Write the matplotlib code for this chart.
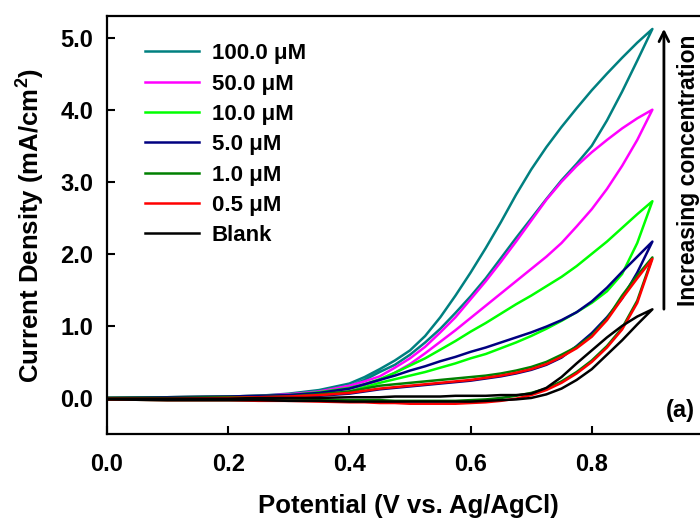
import numpy as np
from matplotlib import pyplot as plt

plt.rcParams['font.family'] = ['Liberation Sans', 'DejaVu Sans']
plt.rcParams['font.weight'] = 'bold'
plt.rcParams['mathtext.fontset'] = 'custom'
plt.rcParams['mathtext.rm'] = 'Liberation Sans:bold'
plt.rcParams['mathtext.bf'] = 'Liberation Sans:bold'

# --- data (V vs Ag/AgCl, mA/cm2) ---
potential = [0.0, 0.1, 0.2, 0.25, 0.3, 0.35, 0.4, 0.425, 0.45, 0.475, 0.5, 0.525, 0.55,
             0.575, 0.6, 0.625, 0.65, 0.675, 0.7, 0.725, 0.75, 0.775, 0.8, 0.825, 0.85,
             0.875, 0.9]

labels = ['100.0 \u03bcM', '50.0 \u03bcM', '10.0 \u03bcM', '5.0 \u03bcM', '1.0 \u03bcM', '0.5 \u03bcM', 'Blank']
colors = ['#008080', '#ff00ff', '#00ff00', '#000080', '#008000', '#ff0000', '#000000']

# upper branch of each loop
upper_100 = [0.0, 0.01, 0.02, 0.03, 0.06, 0.11, 0.20, 0.29, 0.40, 0.52, 0.66, 0.86, 1.12, 1.42,
             1.74, 2.08, 2.44, 2.82, 3.17, 3.48, 3.76, 4.02, 4.27, 4.50, 4.72, 4.93, 5.12]
upper_50 = [0.0, 0.01, 0.02, 0.03, 0.05, 0.09, 0.17, 0.23, 0.30, 0.42, 0.55, 0.71, 0.91, 1.12,
            1.37, 1.62, 1.89, 2.17, 2.46, 2.75, 3.00, 3.22, 3.41, 3.58, 3.74, 3.88, 4.00]
upper_10 = [0.0, 0.01, 0.02, 0.03, 0.04, 0.08, 0.14, 0.19, 0.26, 0.35, 0.45, 0.55, 0.67, 0.79,
            0.92, 1.04, 1.17, 1.30, 1.42, 1.55, 1.68, 1.83, 2.00, 2.17, 2.36, 2.55, 2.73]
upper_5 = [0.0, 0.01, 0.02, 0.03, 0.04, 0.07, 0.13, 0.19, 0.25, 0.31, 0.38, 0.44, 0.51, 0.57,
           0.64, 0.70, 0.77, 0.84, 0.91, 0.99, 1.08, 1.19, 1.34, 1.53, 1.75, 1.96, 2.17]
upper_1 = [0.0, 0.0, 0.01, 0.01, 0.02, 0.05, 0.09, 0.13, 0.17, 0.19, 0.21, 0.23, 0.25, 0.27,
           0.29, 0.31, 0.34, 0.38, 0.43, 0.50, 0.60, 0.71, 0.87, 1.10, 1.42, 1.70, 1.95]
upper_05 = [-0.01, -0.01, 0.0, 0.01, 0.02, 0.04, 0.07, 0.10, 0.13, 0.15, 0.17, 0.19, 0.21, 0.23,
            0.25, 0.28, 0.31, 0.35, 0.40, 0.47, 0.57, 0.69, 0.85, 1.08, 1.38, 1.66, 1.93]
upper_blank = [-0.01, -0.01, -0.01, 0.0, 0.0, 0.0, 0.01, 0.01, 0.01, 0.02, 0.02, 0.02, 0.02, 0.03,
               0.03, 0.03, 0.04, 0.04, 0.06, 0.14, 0.29, 0.48, 0.66, 0.84, 1.00, 1.13, 1.23]

# lower branch of each loop
lower_100 = [-0.02, -0.02, -0.01, 0.0, 0.03, 0.07, 0.16, 0.25, 0.36, 0.46, 0.60, 0.77, 0.96, 1.18,
             1.41, 1.66, 1.94, 2.22, 2.49, 2.76, 3.02, 3.25, 3.50, 3.85, 4.25, 4.68, 5.12]
lower_50 = [-0.02, -0.02, -0.01, 0.0, 0.02, 0.06, 0.13, 0.18, 0.25, 0.35, 0.47, 0.62, 0.78, 0.94,
            1.11, 1.28, 1.45, 1.62, 1.79, 1.96, 2.15, 2.38, 2.62, 2.90, 3.22, 3.58, 4.00]
lower_10 = [-0.02, -0.02, -0.02, -0.01, 0.01, 0.04, 0.09, 0.15, 0.21, 0.26, 0.31, 0.36, 0.42, 0.48,
            0.55, 0.61, 0.69, 0.77, 0.86, 0.96, 1.07, 1.19, 1.32, 1.48, 1.72, 2.15, 2.73]
lower_5 = [-0.02, -0.02, -0.02, -0.01, 0.0, 0.03, 0.06, 0.09, 0.12, 0.14, 0.16, 0.18, 0.20, 0.22,
           0.24, 0.27, 0.30, 0.34, 0.39, 0.46, 0.56, 0.72, 0.90, 1.12, 1.38, 1.74, 2.17]
lower_1 = [-0.02, -0.03, -0.03, -0.03, -0.03, -0.03, -0.03, -0.03, -0.03, -0.04, -0.04, -0.04, -0.04,
           -0.04, -0.03, -0.02, 0.0, 0.03, 0.07, 0.13, 0.23, 0.36, 0.52, 0.72, 0.97, 1.35, 1.95]
lower_05 = [-0.02, -0.03, -0.03, -0.04, -0.04, -0.05, -0.06, -0.06, -0.07, -0.07, -0.08, -0.08, -0.08,
            -0.08, -0.07, -0.06, -0.04, -0.01, 0.04, 0.11, 0.21, 0.34, 0.50, 0.70, 0.95, 1.32, 1.93]
lower_blank = [-0.02, -0.03, -0.03, -0.03, -0.04, -0.04, -0.05, -0.05, -0.05, -0.05, -0.05, -0.05,
               -0.05, -0.05, -0.05, -0.04, -0.03, -0.02, 0.0, 0.05, 0.13, 0.25, 0.40, 0.60, 0.80,
               1.02, 1.23]

uppers = [upper_100, upper_50, upper_10, upper_5, upper_1, upper_05, upper_blank]
lowers = [lower_100, lower_50, lower_10, lower_5, lower_1, lower_05, lower_blank]

fig = plt.figure(figsize=(7, 5.22), dpi=100)
# right spine sits just past the image edge, like the cropped original
ax = fig.add_axes([107 / 700, 88 / 522, 606 / 700, 418 / 522])

for lab, col, up, low in zip(labels, colors, uppers, lowers):
    v = np.array(potential)
    # closed loop: forward along lower branch, back along upper branch
    x = np.concatenate([v, v[::-1]])
    y = np.concatenate([np.array(low), np.array(up)[::-1]])
    ax.plot(x, y, color=col, lw=1.8, label=lab, solid_joinstyle='round')

ax.set_xlim(0, 1.0)
ax.set_ylim(-0.5, 5.3)
ax.set_xticks([0.0, 0.2, 0.4, 0.6, 0.8])
ax.set_yticks([0, 1, 2, 3, 4, 5])
ax.xaxis.set_major_formatter(plt.FormatStrFormatter('%.1f'))
ax.yaxis.set_major_formatter(plt.FormatStrFormatter('%.1f'))
ax.tick_params(direction='in', length=6, width=1.5, labelsize=17, top=False, right=False)
ax.tick_params(axis='x', pad=14)
ax.tick_params(axis='y', pad=10)
for s in ax.spines.values():
    s.set_linewidth(1.6)

fig.text(408 / 700, 1 - 506 / 522, 'Potential (V vs. Ag/AgCl)', fontsize=18.5,
         fontweight='bold', ha='center', va='center')
fig.text(30 / 700, 1 - 225 / 522, r'Current Density (mA/cm$^{\mathbf{2}}$)', fontsize=18.5,
         fontweight='bold', ha='center', va='center', rotation=90)

leg = ax.legend(loc='upper left', bbox_to_anchor=(0.063, 0.935), frameon=False,
                fontsize=16, handlelength=2.4, handletextpad=0.6, labelspacing=0.42,
                borderpad=0, borderaxespad=0)
for line in leg.get_lines():
    line.set_linewidth(1.8)

# arrow and label for the concentration trend
ax.annotate('', xy=(0.919, 0.976), xytext=(0.919, 0.292), xycoords='axes fraction',
            arrowprops=dict(arrowstyle='->,head_length=0.7,head_width=0.35', lw=2, color='black'))
fig.text(688 / 700, 1 - 170 / 522, 'Increasing concentration', fontsize=16.5,
         fontweight='bold', rotation=90, ha='center', va='center')

ax.text(0.970, 0.057, '(a)', transform=ax.transAxes, fontsize=17, fontweight='bold',
        ha='right', va='center')

plt.savefig('out.png', dpi=100)
